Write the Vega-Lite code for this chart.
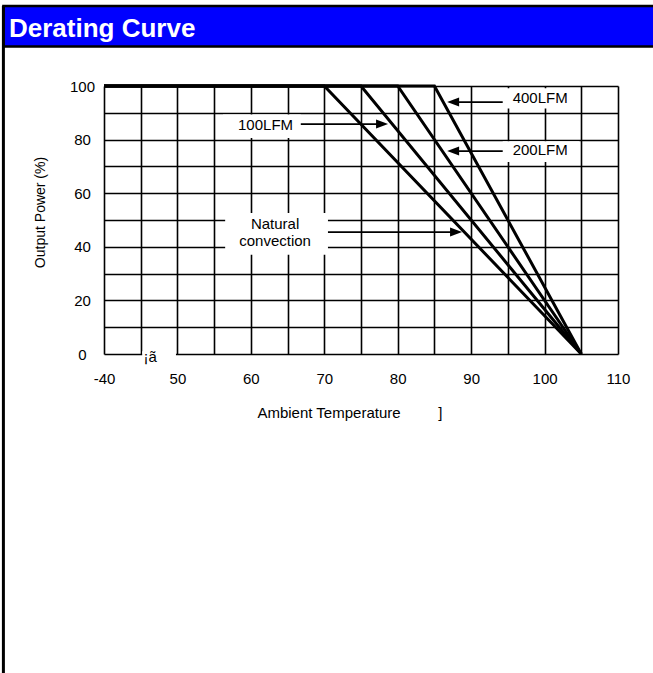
{
  "$schema": "https://vega.github.io/schema/vega-lite/v6.json",
  "width": 514,
  "height": 268,
  "autosize": "none",
  "padding": {"left": 104, "top": 86, "right": 35, "bottom": 319},
  "background": "white",
  "config": {"view": {"stroke": null}, "font": "Liberation Sans"},
  "datasets": {
    "bar": [{"x": 26.3, "x2": 116, "y": 129.85, "y2": 114.7}],
    "border": [{"x": 26.3, "y": 129.85, "y2": -121}],
    "boxes": [
      {"x": 56.2, "x2": 66.8, "y": 80.6, "y2": 89.4},
      {"x": 94.3, "x2": 104.75, "y": 91.6, "y2": 99.2},
      {"x": 94.3, "x2": 104.75, "y": 71.6, "y2": 79.4},
      {"x": 56.5, "x2": 70.5, "y": 37, "y2": 52.6},
      {"x": 45.2, "x2": 49.8, "y": -2, "y2": 1}
    ],
    "curves": [
      {"series": "Natural convection", "x": 40, "y": 100},
      {"series": "Natural convection", "x": 70, "y": 100},
      {"series": "Natural convection", "x": 105, "y": 0},
      {"series": "100LFM", "x": 40, "y": 100},
      {"series": "100LFM", "x": 75, "y": 100},
      {"series": "100LFM", "x": 105, "y": 0},
      {"series": "200LFM", "x": 40, "y": 100},
      {"series": "200LFM", "x": 80, "y": 100},
      {"series": "200LFM", "x": 105, "y": 0},
      {"series": "400LFM", "x": 40, "y": 100},
      {"series": "400LFM", "x": 85, "y": 100},
      {"series": "400LFM", "x": 105, "y": 0}
    ],
    "arrows": [
      {"x": 66.8, "x2": 78.0, "y": 85.8},
      {"x": 94.3, "x2": 87.5, "y": 94.0},
      {"x": 94.3, "x2": 87.5, "y": 75.7},
      {"x": 70.5, "x2": 88.0, "y": 45.5}
    ],
    "heads": [
      {"x": 77.87, "y": 85.8, "dir": "right"},
      {"x": 87.55, "y": 94.0, "dir": "left"},
      {"x": 87.55, "y": 75.7, "dir": "left"},
      {"x": 87.95, "y": 45.5, "dir": "right"}
    ],
    "labels": [
      {"x": 62.0, "y": 83.6, "label": "100LFM"},
      {"x": 99.4, "y": 93.7, "label": "400LFM"},
      {"x": 99.4, "y": 74.3, "label": "200LFM"},
      {"x": 63.3, "y": 46.6, "label": "Natural"},
      {"x": 63.3, "y": 40.3, "label": "convection"},
      {"x": 46.3, "y": -2.9, "label": "¡ã"},
      {"x": 85.8, "y": -23.9, "label": "]"}
    ],
    "title": [{"x": 27.06, "y": 118.1, "label": "Derating Curve"}]
  },
  "encoding": {
    "x": {
      "field": "x",
      "type": "quantitative",
      "scale": {"domain": [40, 110], "nice": false, "zero": false},
      "axis": {
        "title": "Ambient Temperature",
        "values": [40, 45, 50, 55, 60, 65, 70, 75, 80, 85, 90, 95, 100, 105, 110],
        "grid": true,
        "gridColor": "black",
        "gridWidth": 1.6,
        "gridOpacity": 1,
        "ticks": false,
        "tickSize": 0,
        "domain": false,
        "labelExpr": "datum.value % 10 == 0 ? (datum.value == 40 ? '-40' : datum.label) : ''",
        "labelFontSize": 15,
        "labelColor": "black",
        "labelPadding": 24,
        "labelBaseline": "middle",
        "labelFlush": false,
        "labelOverlap": false,
        "titleFontSize": 15,
        "titleFontWeight": "normal",
        "titleColor": "black",
        "titleX": 224.5,
        "titleY": 58,
        "titleBaseline": "middle",
        "titleAlign": "center"
      }
    },
    "y": {
      "field": "y",
      "type": "quantitative",
      "scale": {"domain": [0, 100], "nice": false, "zero": false},
      "axis": {
        "title": "Output Power  (%)",
        "values": [0, 10, 20, 30, 40, 50, 60, 70, 80, 90, 100],
        "grid": true,
        "gridColor": "black",
        "gridWidth": 1.6,
        "gridOpacity": 1,
        "ticks": false,
        "tickSize": 0,
        "domain": false,
        "labelExpr": "datum.value % 20 == 0 ? datum.label : ''",
        "labelFontSize": 15,
        "labelColor": "black",
        "labelAlign": "center",
        "labelBaseline": "middle",
        "labelPadding": 22,
        "labelFlush": false,
        "labelOverlap": false,
        "titleFontSize": 14,
        "titleFontWeight": "normal",
        "titleColor": "black",
        "titleX": -64,
        "titleY": 126,
        "titleAngle": 270,
        "titleAlign": "center",
        "titleBaseline": "middle"
      }
    }
  },
  "layer": [
    {
      "data": {"name": "bar"},
      "mark": {"type": "rect", "fill": "#0000ff", "stroke": "black", "strokeWidth": 2.5},
      "encoding": {"x2": {"field": "x2"}, "y2": {"field": "y2"}}
    },
    {
      "data": {"name": "border"},
      "mark": {"type": "rule", "color": "black", "strokeWidth": 3},
      "encoding": {"y2": {"field": "y2"}}
    },
    {
      "data": {"name": "boxes"},
      "mark": {"type": "rect", "fill": "white", "strokeWidth": 0},
      "encoding": {"x2": {"field": "x2"}, "y2": {"field": "y2"}}
    },
    {
      "data": {"name": "curves"},
      "mark": {"type": "line", "color": "black"},
      "encoding": {
        "strokeWidth": {
          "field": "series",
          "type": "nominal",
          "scale": {"domain": ["Natural convection", "100LFM", "200LFM", "400LFM"], "range": [3, 3, 4.2, 3.5]},
          "legend": null
        }
      }
    },
    {
      "data": {"name": "arrows"},
      "mark": {"type": "rule", "color": "black", "strokeWidth": 1.8},
      "encoding": {"x2": {"field": "x2"}}
    },
    {
      "data": {"name": "heads"},
      "mark": {"type": "point", "filled": true, "color": "black", "opacity": 1, "size": 144, "strokeWidth": 0},
      "encoding": {
        "shape": {
          "field": "dir",
          "type": "nominal",
          "scale": {"domain": ["right", "left"], "range": ["M-1,-0.75L1,0L-1,0.75Z", "M1,-0.75L-1,0L1,0.75Z"]},
          "legend": null
        }
      }
    },
    {
      "data": {"name": "labels"},
      "mark": {"type": "text", "align": "center", "baseline": "alphabetic", "fontSize": 15, "color": "black"},
      "encoding": {"text": {"field": "label"}}
    },
    {
      "data": {"name": "title"},
      "mark": {"type": "text", "align": "left", "baseline": "alphabetic", "fontSize": 26, "fontWeight": "bold", "color": "white"},
      "encoding": {"text": {"field": "label"}}
    }
  ]
}
